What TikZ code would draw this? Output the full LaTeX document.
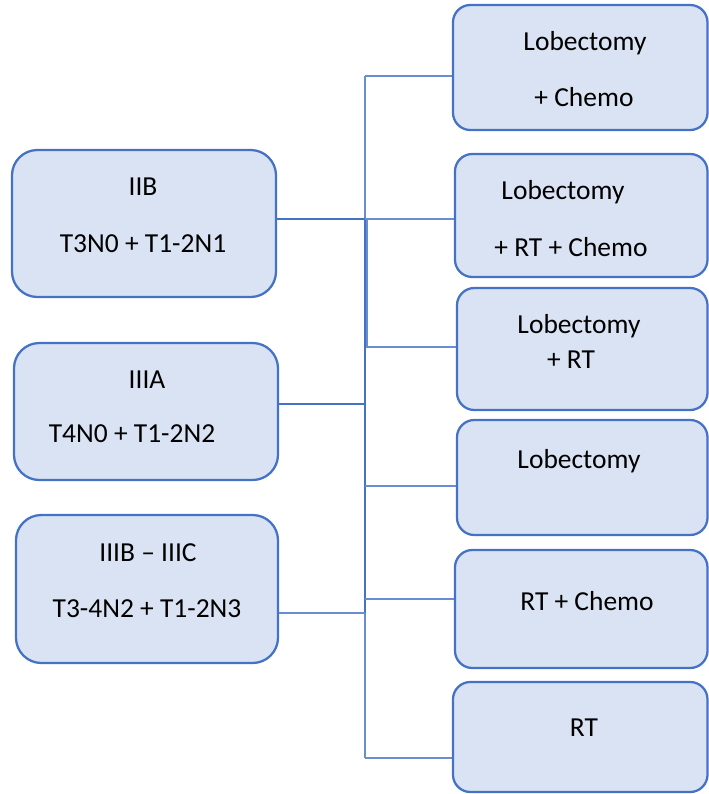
\documentclass[tikz,border=0pt]{standalone}
\usepackage{fontspec}
\setmainfont{Carlito}
\usepackage{xcolor}
\usepackage{tikz}
\usetikzlibrary{positioning}
\definecolor{boxfill}{HTML}{DAE3F3}
\definecolor{boxline}{HTML}{4472C4}
\tikzset{
  stage/.style={draw=boxline, line width=1.7pt, fill=boxfill, rounded corners=19pt, inner sep=0pt},
  therapy/.style={draw=boxline, line width=1.7pt, fill=boxfill, rounded corners=13pt, inner sep=0pt},
  txt/.style={inner sep=0pt, text height=13.3pt, text depth=0pt, font=\fontsize{20.6}{24}\selectfont},
  bus/.style={draw=boxline, line width=1.5pt},
  link/.style={draw=boxline!80, line width=0.9pt}
}

\begin{document}
\begin{tikzpicture}[x=0.75pt, y=-0.75pt]
  \useasboundingbox (0,0) rectangle (709,794);

  % stage boxes
  \node[stage, minimum width=198pt, minimum height=110.25pt] (iib) at (144,223.5) {};
  \node[stage, minimum width=198pt, minimum height=102.75pt] (iiia) at (146,411.5) {};
  \node[stage, minimum width=196.5pt, minimum height=111pt] (iiib) at (147,589) {};

  \node[txt] (iib-a) at (143,187) {IIB};
  \node[txt] (iib-b) at (143,244) {T3N0 + T1-2N1};
  \node[txt] (iiia-a) at (147,380) {IIIA};
  \node[txt] (iiia-b) at (132,434) {T4N0 + T1-2N2};
  \node[txt] (iiib-a) at (148,553) {IIIB – IIIC};
  \node[txt] (iiib-b) at (147,609) {T3-4N2 + T1-2N3};

  % therapy boxes
  \node[therapy, minimum width=190.9pt, minimum height=93.75pt] (t1) at (580.25,67.5) {};
  \node[therapy, minimum width=189.4pt, minimum height=92.25pt] (t2) at (581.25,215.5) {};
  \node[therapy, minimum width=187.9pt, minimum height=91.5pt] (t3) at (582.25,349) {};
  \node[therapy, minimum width=187.9pt, minimum height=86.25pt] (t4) at (582.25,477.5) {};
  \node[therapy, minimum width=189.4pt, minimum height=88.5pt] (t5) at (581.25,609) {};
  \node[therapy, minimum width=190.9pt, minimum height=82.5pt] (t6) at (580.25,737) {};

  \node[txt] (t1-a) at (585,42) {Lobectomy};
  \node[txt] (t1-b) at (584,98) {+ Chemo};
  \node[txt] (t2-a) at (563,191) {Lobectomy};
  \node[txt] (t2-b) at (571,248) {+ RT + Chemo};
  \node[txt] (t3-a) at (579,325) {Lobectomy};
  \node[txt] (t3-b) at (571,360) {+ RT};
  \node[txt] (t4-a) at (579,460) {Lobectomy};
  \node[txt] (t5-a) at (587,602) {RT + Chemo};
  \node[txt] (t6-a) at (584,728) {RT};

  % bus
  \coordinate (top) at (365,76);
  \coordinate (j1) at (365,219);
  \coordinate (j2) at (365,404);
  \coordinate (j4) at (365,486);
  \coordinate (j5) at (365,599);
  \coordinate (j3) at (365,613);
  \coordinate (bot) at (365,758);

  \draw[link] (top) -- (j1);
  \draw[bus] (j1) -- (j3);
  \draw[link] (j3) -- (bot);

  \draw[bus] (iib.east |- j1) -- (j1);
  \draw[bus] (iiia.east |- j2) -- (j2);
  \draw[link] (iiib.east |- j3) -- (j3);

  \draw[link] (top) -- (t1.west |- top);
  \draw[link] (j1) -- (t2.west |- j1);
  \draw[link] ([xshift=1.5pt]j1) |- ([yshift=1.5pt]t3.west);
  \draw[link] (j4) -- (t4.west |- j4);
  \draw[link] (j5) -- (t5.west |- j5);
  \draw[link] (bot) -- (t6.west |- bot);
\end{tikzpicture}
\end{document}
